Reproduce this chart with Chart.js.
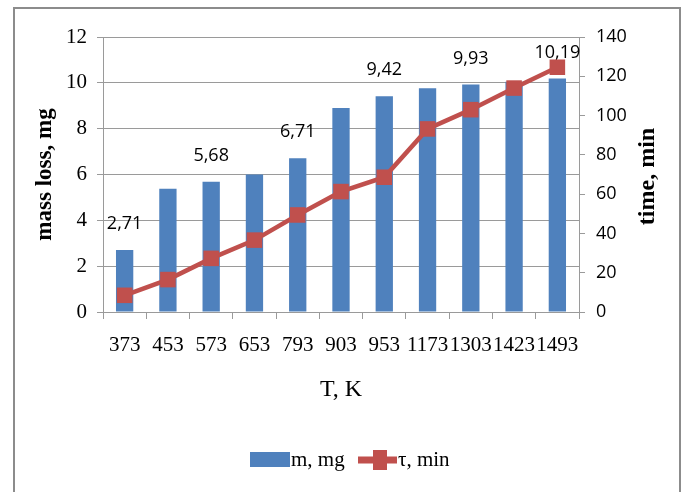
<!DOCTYPE html>
<html>
<head>
<meta charset="utf-8">
<script src="https://cdn.jsdelivr.net/npm/chart.js@4"></script>
<style>
  html, body { margin: 0; padding: 0; background: #ffffff; }
  #wrap { width: 683px; height: 492px; position: relative; }
</style>
</head>
<body>
<div id="wrap"><canvas id="c" width="683" height="492"></canvas></div>
<script>
// ---- data ----
const categories = ['373', '453', '573', '653', '793', '903', '953', '1173', '1303', '1423', '1493'];
const massLoss = [2.71, 5.38, 5.68, 6.0, 6.71, 8.9, 9.42, 9.76, 9.93, 10.05, 10.19];
const timeMin = [8.5, 16.5, 27.3, 36.6, 49.4, 61.3, 68.6, 93.2, 103, 114, 124.6];
const labeledIdx = [0, 2, 4, 6, 8, 10];
const leftTicks = [0, 2, 4, 6, 8, 10, 12];
const rightTicks = [0, 20, 40, 60, 80, 100, 120, 140];
const seriesNames = ['m, mg', 'τ, min'];
const axisTitles = { x: 'T, K', y: 'mass loss, mg', y2: 'time, min' };

const BLUE = '#4F81BD';
const RED = '#C0504D';
const GRID = '#9a9a9a';
const SERIF = '"Liberation Serif", "Times New Roman", serif';
const SANS = '"Open Sans", "Noto Sans", sans-serif';

const framePlugin = {
  id: 'frame',
  beforeDraw(chart) {
    const ctx = chart.ctx;
    ctx.save();
    ctx.fillStyle = '#ffffff';
    ctx.fillRect(0, 0, chart.width, chart.height);
    ctx.strokeStyle = '#8c8c8c';
    ctx.lineWidth = 2;
    ctx.beginPath();
    ctx.moveTo(14, 500);
    ctx.lineTo(14, 8);
    ctx.lineTo(680, 8);
    ctx.lineTo(680, 500);
    ctx.stroke();
    ctx.restore();
  }
};

const barLabelPlugin = {
  id: 'barLabels',
  afterDatasetDraw(chart, args) {
    if (args.index !== 0) return;
    const meta = chart.getDatasetMeta(0);
    const ctx = chart.ctx;
    ctx.save();
    ctx.font = '18px ' + SANS;
    ctx.fillStyle = '#000000';
    ctx.textAlign = 'center';
    ctx.textBaseline = 'middle';
    labeledIdx.forEach(i => {
      const el = meta.data[i];
      const txt = massLoss[i].toFixed(2).replace('.', ',');
      ctx.fillText(txt, el.x, el.y - 26);
    });
    ctx.restore();
  }
};

const extrasPlugin = {
  id: 'extras',
  afterDraw(chart) {
    const ctx = chart.ctx;
    const ca = chart.chartArea;
    ctx.save();
    // right axis title (reads bottom-to-top)
    ctx.translate(648, (ca.top + ca.bottom) / 2 + 2);
    ctx.rotate(-Math.PI / 2);
    ctx.font = 'bold 24px ' + SERIF;
    ctx.fillStyle = '#000000';
    ctx.textAlign = 'center';
    ctx.textBaseline = 'middle';
    ctx.fillText(axisTitles.y2, 0, 0);
    ctx.restore();

    // legend
    ctx.save();
    const ly = 460;
    ctx.font = '21px ' + SERIF;
    ctx.fillStyle = '#000000';
    ctx.textBaseline = 'middle';
    ctx.textAlign = 'left';
    ctx.fillStyle = BLUE;
    ctx.fillRect(250, 452, 40, 15);
    ctx.fillStyle = '#000000';
    ctx.fillText(seriesNames[0], 291, ly);
    ctx.strokeStyle = RED;
    ctx.lineWidth = 7;
    ctx.beginPath();
    ctx.moveTo(358, ly);
    ctx.lineTo(397, ly);
    ctx.stroke();
    ctx.fillStyle = RED;
    ctx.fillRect(373, 450, 14, 20);
    ctx.fillStyle = '#000000';
    ctx.fillText(seriesNames[1], 398, ly);
    ctx.restore();
  }
};

new Chart(document.getElementById('c'), {
  data: {
    labels: categories,
    datasets: [
      {
        type: 'bar',
        label: seriesNames[0],
        data: massLoss,
        backgroundColor: BLUE,
        borderWidth: 0,
        yAxisID: 'y',
        barPercentage: 0.4,
        categoryPercentage: 1.0,
        order: 2
      },
      {
        type: 'line',
        label: seriesNames[1],
        data: timeMin,
        borderColor: RED,
        backgroundColor: RED,
        borderWidth: 4.5,
        pointStyle: 'rect',
        pointRadius: 11,
        pointHoverRadius: 11,
        pointBackgroundColor: RED,
        pointBorderColor: RED,
        pointBorderWidth: 0,
        tension: 0,
        yAxisID: 'y2',
        order: 1
      }
    ]
  },
  options: {
    responsive: false,
    animation: false,
    devicePixelRatio: 1,
    layout: { padding: { left: 0, right: 0, top: 37, bottom: 88 } },
    plugins: {
      legend: { display: false },
      tooltip: { enabled: false }
    },
    scales: {
      x: {
        offset: true,
        grid: { display: true, drawOnChartArea: false, offset: true, color: GRID, tickLength: 7, tickColor: GRID },
        border: { color: GRID, width: 1 },
        ticks: { color: '#000000', font: { family: SERIF, size: 21 }, padding: 14, maxRotation: 0, autoSkip: false },
        title: { display: true, text: axisTitles.x, color: '#000000', font: { family: SERIF, size: 24 }, padding: { top: 0, bottom: 0 } },
        afterFit(s) { s.height = 92; }
      },
      y: {
        position: 'left',
        min: 0, max: 12,
        afterBuildTicks(s) { s.ticks = leftTicks.map(v => ({ value: v })); },
        grid: { color: GRID, tickLength: 6, tickColor: GRID },
        border: { color: GRID, width: 1 },
        ticks: { color: '#000000', font: { family: SERIF, size: 21 }, padding: 10 },
        title: { display: true, text: axisTitles.y, color: '#000000', font: { family: SERIF, size: 23, weight: 'bold' }, padding: { top: 31, bottom: 0 } },
        afterFit(s) { s.width = 103; }
      },
      y2: {
        position: 'right',
        min: 0, max: 140,
        afterBuildTicks(s) { s.ticks = rightTicks.map(v => ({ value: v })); },
        grid: { drawOnChartArea: false, color: GRID, tickLength: 6, tickColor: GRID },
        border: { color: GRID, width: 1 },
        ticks: { color: '#000000', font: { family: SANS, size: 18 }, padding: 11 },
        afterFit(s) { s.width = 104; }
      }
    }
  },
  plugins: [framePlugin, barLabelPlugin, extrasPlugin]
});
</script>
</body>
</html>
